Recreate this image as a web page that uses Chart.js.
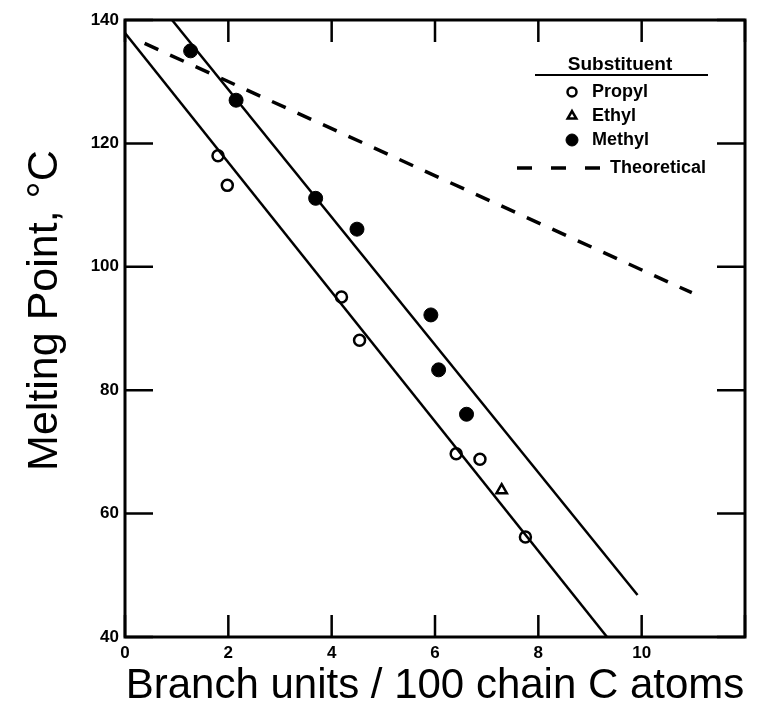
<!DOCTYPE html>
<html>
<head>
<meta charset="utf-8">
<script src="https://cdn.jsdelivr.net/npm/chart.js@4.4.1/dist/chart.umd.min.js"></script>
<style>
  html, body { margin: 0; padding: 0; background: #fff; }
  #wrap { width: 762px; height: 702px; }
</style>
</head>
<body>
<div id="wrap"><canvas id="meltChart" width="762" height="702"></canvas></div>
<script>
// Melting point of branched polyethylene vs. branch content

const xTicks = [0, 2, 4, 6, 8, 10, 12];
const yTicks = [40, 60, 80, 100, 120, 140];

// measured points, per substituent
const propylX = [1.80, 1.98, 4.19, 4.54, 6.41, 6.87, 7.75];
const propylY = [118.0, 113.2, 95.1, 88.1, 69.7, 68.8, 56.2];

const ethylX = [7.29];
const ethylY = [63.8];

const methylX = [1.27, 2.15, 3.69, 4.49, 5.92, 6.07, 6.61];
const methylY = [135.0, 127.0, 111.1, 106.1, 92.2, 83.3, 76.1];

// straight lines, end points only
const upperFitX = [0.91, 9.92];
const upperFitY = [140, 46.8];
const lowerFitX = [0, 9.33];
const lowerFitY = [137.9, 40];
const theoryX = [0.38, 10.97];
const theoryY = [136.2, 95.8];

const legendTitle = "Substituent";
const legendNames = ["Propyl", "Ethyl", "Methyl"];
const theoryName = "Theoretical";

const FONT = "'Liberation Sans', Arial, Helvetica, sans-serif";
const INK = "#000";

const toPoints = (xs, ys) => xs.map((x, i) => ({ x, y: ys[i] }));

// Kehys ja sisäänpäin osoittavat tikit
const frameTicks = {
  id: "frameTicks",
  afterDatasetsDraw(chart) {
    const { ctx, chartArea: a, scales: { x, y } } = chart;
    ctx.save();
    ctx.strokeStyle = INK;
    ctx.lineWidth = 3;
    ctx.strokeRect(a.left, a.top, a.right - a.left, a.bottom - a.top);
    ctx.lineWidth = 2.5;
    ctx.beginPath();
    xTicks.forEach((v) => {
      const px = x.getPixelForValue(v);
      ctx.moveTo(px, a.bottom); ctx.lineTo(px, a.bottom - 22);
      ctx.moveTo(px, a.top); ctx.lineTo(px, a.top + 22);
    });
    yTicks.forEach((v) => {
      const py = y.getPixelForValue(v);
      ctx.moveTo(a.left, py); ctx.lineTo(a.left + 28, py);
      ctx.moveTo(a.right, py); ctx.lineTo(a.right - 28, py);
    });
    ctx.stroke();
    ctx.restore();
  },
};

// Selite piirretään itse, koska siinä on otsikko ja alleviivaus
const substituentLegend = {
  id: "substituentLegend",
  afterDraw(chart) {
    const { ctx } = chart;
    const styles = [
      { pointStyle: "circle", radius: 4.5, borderWidth: 2.5, fill: "#fff" },
      { pointStyle: "triangle", radius: 5, borderWidth: 2.5, fill: "#fff" },
      { pointStyle: "circle", radius: 6, borderWidth: 1, fill: INK },
    ];
    ctx.save();
    ctx.fillStyle = INK;
    ctx.strokeStyle = INK;
    ctx.textBaseline = "middle";

    ctx.font = `bold 19px ${FONT}`;
    ctx.textAlign = "center";
    ctx.fillText(legendTitle, 620, 65);
    ctx.lineWidth = 2;
    ctx.beginPath();
    ctx.moveTo(535, 75); ctx.lineTo(708, 75);
    ctx.stroke();

    ctx.font = `bold 18px ${FONT}`;
    ctx.textAlign = "left";
    legendNames.forEach((name, i) => {
      const yy = 92 + i * 24;
      const s = styles[i];
      ctx.fillStyle = s.fill;
      ctx.lineWidth = s.borderWidth;
      Chart.helpers.drawPoint(ctx, { pointStyle: s.pointStyle, radius: s.radius, borderWidth: s.borderWidth, rotation: 0 }, 572, yy);
      ctx.fillStyle = INK;
      ctx.fillText(name, 592, yy);
    });

    ctx.lineWidth = 3.5;
    ctx.setLineDash([15, 19]);
    ctx.beginPath();
    ctx.moveTo(517, 168); ctx.lineTo(600, 168);
    ctx.stroke();
    ctx.setLineDash([]);
    ctx.fillText(theoryName, 610, 168);
    ctx.restore();
  },
};

const lineSet = (label, xs, ys, extra) => ({
  label,
  data: toPoints(xs, ys),
  showLine: true,
  borderColor: INK,
  borderWidth: 2.5,
  pointRadius: 0,
  ...extra,
});

const canvas = document.getElementById("meltChart");

new Chart(canvas, {
  type: "scatter",
  data: {
    datasets: [
      lineSet("Upper fit", upperFitX, upperFitY),
      lineSet("Lower fit", lowerFitX, lowerFitY),
      lineSet(theoryName, theoryX, theoryY, { borderDash: [15, 13], borderWidth: 3.5 }),
      {
        label: legendNames[0],
        data: toPoints(propylX, propylY),
        pointStyle: "circle",
        pointRadius: 5.5,
        borderWidth: 2.5,
        borderColor: INK,
        backgroundColor: "#fff",
      },
      {
        label: legendNames[1],
        data: toPoints(ethylX, ethylY),
        pointStyle: "triangle",
        pointRadius: 6,
        borderWidth: 2.5,
        borderColor: INK,
        backgroundColor: "#fff",
      },
      {
        label: legendNames[2],
        data: toPoints(methylX, methylY),
        pointStyle: "circle",
        pointRadius: 7,
        borderWidth: 1,
        borderColor: INK,
        backgroundColor: INK,
      },
    ],
  },
  options: {
    responsive: false,
    animation: false,
    layout: { padding: { top: 20, right: 17, left: 0, bottom: 0 } },
    plugins: {
      legend: { display: false },
      tooltip: { enabled: false },
    },
    scales: {
      x: {
        type: "linear",
        min: 0,
        max: 12,
        afterBuildTicks: (s) => { s.ticks = xTicks.map((v) => ({ value: v })); },
        afterFit: (s) => { s.height = 65; },
        ticks: {
          callback: (v) => (v <= 10 ? v : ""),
          color: INK,
          font: { family: FONT, size: 17, weight: "bold" },
          padding: 6,
          maxRotation: 0,
          autoSkip: false,
        },
        grid: { display: false, drawTicks: false },
        border: { display: false },
        title: {
          display: true,
          text: "Branch units / 100 chain C atoms",
          color: INK,
          font: { family: FONT, size: 42, lineHeight: 1 },
          padding: { top: 0, bottom: -5 },
        },
      },
      y: {
        type: "linear",
        min: 40,
        max: 140,
        afterBuildTicks: (s) => { s.ticks = yTicks.map((v) => ({ value: v })); },
        afterFit: (s) => { s.width = 125; },
        ticks: {
          color: INK,
          font: { family: FONT, size: 17, weight: "bold" },
          padding: 6,
        },
        grid: { display: false, drawTicks: false },
        border: { display: false },
        title: {
          display: true,
          // kolme välilyöntiä siirtää tekstin hieman ylemmäs
          text: "   Melting Point, °C",
          color: INK,
          font: { family: FONT, size: 43, lineHeight: 1 },
          padding: { top: 24, bottom: 0 },
        },
      },
    },
  },
  plugins: [frameTicks, substituentLegend],
});
</script>
</body>
</html>
